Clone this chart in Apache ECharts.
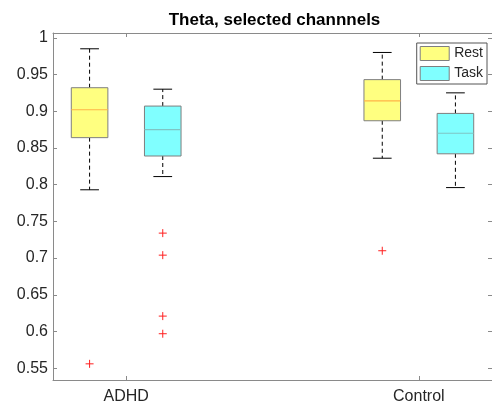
<!DOCTYPE html>
<html>
<head>
<meta charset="utf-8">
<script src="https://cdn.jsdelivr.net/npm/echarts@6/dist/echarts.min.js"></script>
<style>
  html, body { margin: 0; background: #fff; }
  #chart { width: 492px; height: 406px; }
</style>
</head>
<body>
<div id="chart"></div>
<script>
  // groups on the x axis
  const groups = ['ADHD', 'Control']
  const groupPos = [1, 2]
  // box stats per group: [lower whisker, q1, median, q3, upper whisker]
  const restStats = [
    [0.793, 0.864, 0.902, 0.932, 0.985],
    [0.836, 0.887, 0.914, 0.943, 0.980]
  ]
  const taskStats = [
    [0.811, 0.839, 0.875, 0.907, 0.930],
    [0.796, 0.842, 0.870, 0.897, 0.925]
  ]
  const restOutliers = [[0.556], [0.710]]
  const taskOutliers = [[0.734, 0.704, 0.621, 0.597], []]
  const yTicks = [0.55, 0.6, 0.65, 0.7, 0.75, 0.8, 0.85, 0.9, 0.95, 1]

  const FONT = 'Liberation Sans, Arial, sans-serif'
  const AXIS_COLOR = '#8a8a8a'
  const TEXT_COLOR = '#262626'
  const OFFSET = 0.125
  const BOX_HALF = 0.0625
  const CAP_HALF = 0.032

  function boxData (stats, shift) {
    return stats.map((s, i) => [groupPos[i] + shift, ...s])
  }
  function outlierData (list, shift) {
    const out = []
    list.forEach((vals, i) => {
      vals.forEach(v => out.push([groupPos[i] + shift, v]))
    })
    return out
  }

  function boxRenderer (fill, medianColor) {
    return function (params, api) {
      const x = api.value(0)
      const pt = (dx, v) => api.coord([x + dx, v])
      const lw = api.value(1), q1 = api.value(2), med = api.value(3), q3 = api.value(4), uw = api.value(5)
      const dash = { stroke: '#000', lineWidth: 1, lineDash: [4, 3] }
      const solid = { stroke: '#000', lineWidth: 1 }
      const tl = pt(-BOX_HALF, q3)
      const br = pt(BOX_HALF, q1)
      const line = (a, b, style) => ({
        type: 'line',
        shape: { x1: a[0], y1: a[1], x2: b[0], y2: b[1] },
        style: style
      })
      return {
        type: 'group',
        children: [
          line(pt(0, q3), pt(0, uw), dash),
          line(pt(0, q1), pt(0, lw), dash),
          line(pt(-CAP_HALF, uw), pt(CAP_HALF, uw), solid),
          line(pt(-CAP_HALF, lw), pt(CAP_HALF, lw), solid),
          {
            type: 'rect',
            shape: { x: tl[0], y: tl[1], width: br[0] - tl[0], height: br[1] - tl[1] },
            style: { fill: fill, stroke: '#7f7f7f', lineWidth: 1 }
          },
          line(pt(-BOX_HALF, med), pt(BOX_HALF, med), { stroke: medianColor, lineWidth: 1.2 })
        ]
      }
    }
  }

  function plusRenderer (params, api) {
    const c = api.coord([api.value(0), api.value(1)])
    const r = 4
    const style = { stroke: '#ff2020', lineWidth: 1 }
    return {
      type: 'group',
      children: [
        { type: 'line', shape: { x1: c[0] - r, y1: c[1], x2: c[0] + r, y2: c[1] }, style },
        { type: 'line', shape: { x1: c[0], y1: c[1] - r, x2: c[0], y2: c[1] + r }, style }
      ]
    }
  }

  const xBase = {
    type: 'value',
    min: 0.75,
    max: 2.25,
    splitLine: { show: false },
    axisLine: { lineStyle: { color: AXIS_COLOR } },
    axisTick: { inside: true, length: 4, customValues: groupPos, lineStyle: { color: AXIS_COLOR } }
  }
  const yBase = {
    type: 'value',
    min: 0.534,
    max: 1.0065,
    splitLine: { show: false },
    axisLine: { show: true, lineStyle: { color: AXIS_COLOR } },
    axisTick: { show: true, inside: true, length: 4, customValues: yTicks, lineStyle: { color: AXIS_COLOR } }
  }

  const mychart = echarts.init(document.getElementById('chart'))
  mychart.setOption({
    backgroundColor: '#fff',
    animation: false,
    title: {
      text: 'Theta, selected channnels',
      left: 274.5,
      top: 12,
      padding: 0,
      textAlign: 'center',
      textStyle: { fontFamily: FONT, fontSize: 17, fontWeight: 'bold', color: '#000' }
    },
    legend: {
      orient: 'vertical',
      right: 5,
      top: 43,
      padding: [3, 4, 3, 3],
      itemGap: 5,
      itemWidth: 29,
      itemHeight: 14,
      itemTextGap: 3,
      selectedMode: false,
      backgroundColor: '#fff',
      borderColor: '#555',
      borderWidth: 1,
      icon: 'rect',
      textStyle: { fontFamily: FONT, fontSize: 14, color: TEXT_COLOR },
      data: [
        { name: 'Rest', itemStyle: { color: '#ffff80', borderColor: '#7f7f7f', borderWidth: 1 } },
        { name: 'Task', itemStyle: { color: '#80ffff', borderColor: '#7f7f7f', borderWidth: 1 } }
      ]
    },
    grid: { left: 53, top: 33, width: 443, height: 347 },
    xAxis: [
      Object.assign({}, xBase, {
        position: 'bottom',
        axisLabel: {
          customValues: groupPos,
          margin: 9,
          fontFamily: FONT,
          fontSize: 16,
          color: TEXT_COLOR,
          formatter: v => groups[groupPos.indexOf(v)] || ''
        }
      }),
      Object.assign({}, xBase, { position: 'top', axisLabel: { show: false } })
    ],
    yAxis: [
      Object.assign({}, yBase, {
        position: 'left',
        axisLabel: {
          customValues: yTicks,
          margin: 5,
          fontFamily: FONT,
          fontSize: 16,
          color: TEXT_COLOR,
          formatter: v => String(v)
        }
      }),
      Object.assign({}, yBase, { position: 'right', axisLabel: { show: false } })
    ],
    series: [
      {
        name: 'Rest',
        type: 'custom',
        itemStyle: { color: '#ffff80' },
        renderItem: boxRenderer('#ffff80', '#ffb347'),
        encode: { x: 0, y: [1, 2, 3, 4, 5] },
        data: boxData(restStats, -OFFSET)
      },
      {
        name: 'Task',
        type: 'custom',
        itemStyle: { color: '#80ffff' },
        renderItem: boxRenderer('#80ffff', '#7fc4c4'),
        encode: { x: 0, y: [1, 2, 3, 4, 5] },
        data: boxData(taskStats, OFFSET)
      },
      {
        type: 'custom',
        renderItem: plusRenderer,
        encode: { x: 0, y: 1 },
        data: outlierData(restOutliers, -OFFSET)
      },
      {
        type: 'custom',
        renderItem: plusRenderer,
        encode: { x: 0, y: 1 },
        data: outlierData(taskOutliers, OFFSET)
      }
    ]
  })
</script>
</body>
</html>
